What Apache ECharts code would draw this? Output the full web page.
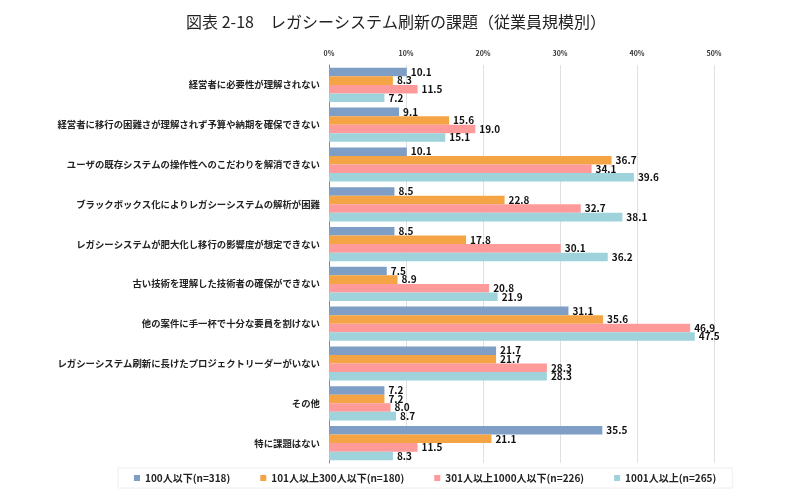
<!DOCTYPE html>
<html lang="ja">
<head>
<meta charset="UTF-8">
<title>レガシーシステム刷新の課題</title>
<script src="https://cdn.jsdelivr.net/npm/echarts@6/dist/echarts.min.js"></script>
<style>
    html,body{margin:0;padding:0;background:#fff}
    #main{width:792px;height:501px}
</style>
</head>
<body>
<div id="main"></div>
<script>
var categories = [
    '経営者に必要性が理解されない',
    '経営者に移行の困難さが理解されず予算や納期を確保できない',
    'ユーザの既存システムの操作性へのこだわりを解消できない',
    'ブラックボックス化によりレガシーシステムの解析が困難',
    'レガシーシステムが肥大化し移行の影響度が想定できない',
    '古い技術を理解した技術者の確保ができない',
    '他の案件に手一杯で十分な要員を割けない',
    'レガシーシステム刷新に長けたプロジェクトリーダーがいない',
    'その他',
    '特に課題はない'
];
var seriesNames = ['100人以下(n=318)', '101人以上300人以下(n=180)', '301人以上1000人以下(n=226)', '1001人以上(n=265)'];
var small = [10.1, 9.1, 10.1, 8.5, 8.5, 7.5, 31.1, 21.7, 7.2, 35.5];
var midSmall = [8.3, 15.6, 36.7, 22.8, 17.8, 8.9, 35.6, 21.7, 7.2, 21.1];
var midLarge = [11.5, 19.0, 34.1, 32.7, 30.1, 20.8, 46.9, 28.3, 8.0, 11.5];
var large = [7.2, 15.1, 39.6, 38.1, 36.2, 21.9, 47.5, 28.3, 8.7, 8.3];
var colors = ['#7f9ec5', '#f5a445', '#ff9a9a', '#9ed3db'];

var font = '"Noto Sans CJK JP", "Noto Sans", sans-serif';
var myChart = echarts.init(document.getElementById('main'));

function makeSeries(name, data, i) {
    return {
        name: name,
        type: 'bar',
        data: data,
        barGap: '0%',
        barCategoryGap: '14%',
        itemStyle: { color: colors[i] },
        label: {
            show: true,
            position: 'right',
            distance: 4,
            formatter: function (p) { return p.value.toFixed(1); },
            color: '#111',
            fontSize: 10,
            fontWeight: 'bold',
            fontFamily: font
        }
    };
}

var option = {
    animation: false,
    title: {
        text: '図表 2-18　レガシーシステム刷新の課題（従業員規模別）',
        left: 'center',
        top: 9,
        textStyle: { fontSize: 16, fontWeight: 'normal', color: '#222', fontFamily: font }
    },
    legend: {
        bottom: 13,
        left: 118,
        itemWidth: 6,
        itemHeight: 6,
        itemGap: 30,
        icon: 'rect',
        textStyle: { fontSize: 10, fontWeight: 'bold', color: '#222', fontFamily: font },
        borderColor: '#eee',
        borderWidth: 1,
        padding: [5, 16]
    },
    grid: { left: 329, right: 78, top: 65, bottom: 38, containLabel: false },
    xAxis: {
        type: 'value',
        position: 'top',
        min: 0,
        max: 50,
        interval: 10,
        axisLabel: {
            formatter: '{value}%',
            fontSize: 7,
            fontWeight: 'bold',
            color: '#333',
            fontFamily: font,
            margin: 8
        },
        axisLine: { show: false },
        axisTick: { show: false },
        splitLine: { lineStyle: { color: '#dde1e6', width: 1 } }
    },
    yAxis: {
        type: 'category',
        inverse: true,
        data: categories,
        axisLine: { show: true, lineStyle: { color: '#888' } },
        axisTick: { show: false },
        axisLabel: {
            fontSize: 9.4,
            fontWeight: 'bold',
            color: '#222',
            fontFamily: font,
            margin: 9
        }
    },
    series: [
        makeSeries(seriesNames[0], small, 0),
        makeSeries(seriesNames[1], midSmall, 1),
        makeSeries(seriesNames[2], midLarge, 2),
        makeSeries(seriesNames[3], large, 3)
    ]
};

myChart.setOption(option);
</script>
</body>
</html>
